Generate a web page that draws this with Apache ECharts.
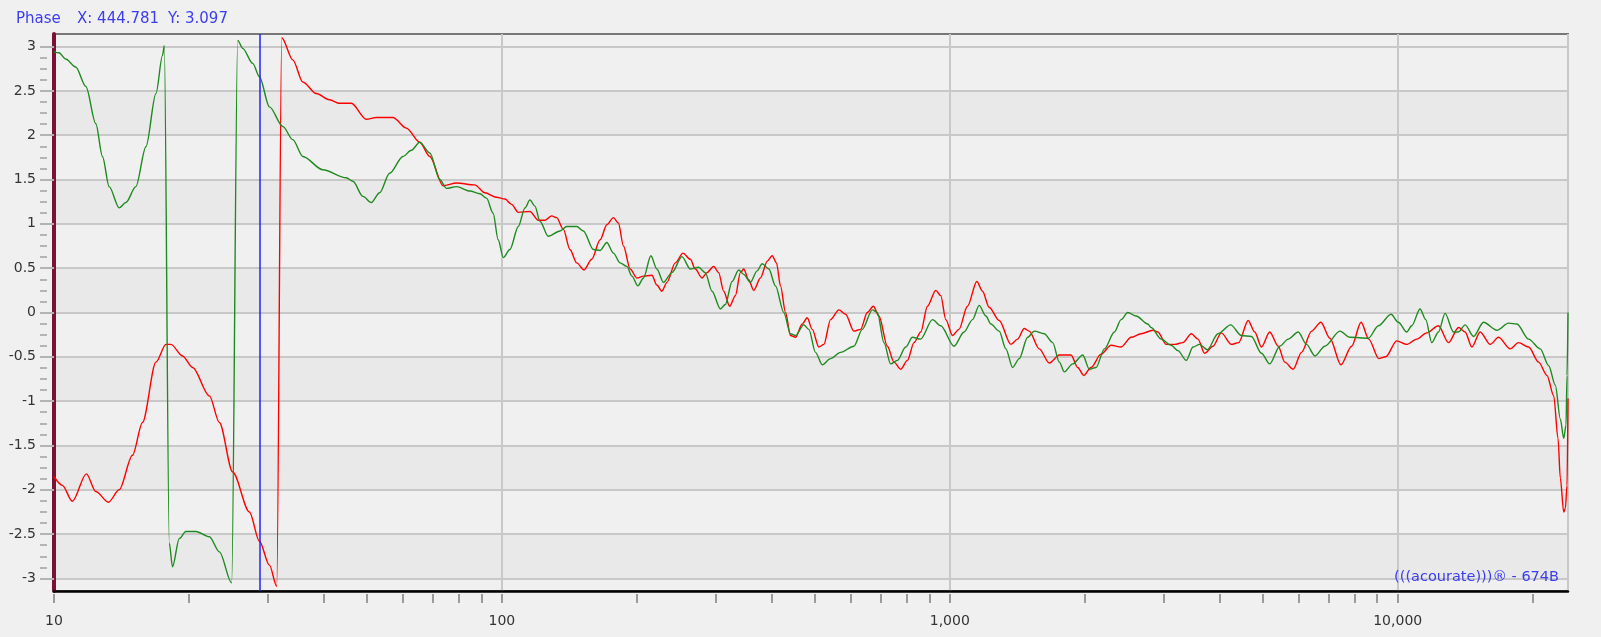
<!DOCTYPE html>
<html><head><meta charset="utf-8">
<script src="https://cdn.jsdelivr.net/npm/echarts@6/dist/echarts.min.js"></script>
<style>html,body{margin:0;padding:0;background:#f0f0f0;overflow:hidden}#c{width:1601px;height:637px}</style>
</head><body><div id="c"></div>
<script>
const greenFreq = [10.0,10.26,10.62,11.18,11.78,12.40,12.83,13.28,13.98,14.47,15.23,16.04,16.89,17.47,17.63,18.09,18.39,19.04,19.70,20.75,22.23,23.40,24.93,25.71,26.38,27.78,28.75,30.27,32.42,34.13,35.94,39.83,44.93,46.49,48.95,51.09,53.33,56.15,60.13,62.81,65.55,69.02,72.67,75.22,79.19,84.82,89.3,92.4,95.6,98.1,100.7,104.2,108.8,112.6,115.5,118.5,121.6,126.9,134.8,139.6,146.9,152.0,160.1,165.7,171.5,177.4,183.6,190.1,195.1,201.2,207.1,215.1,221.8,229.5,239.7,252.4,263.4,274.9,284.5,294.5,307.4,315.4,326.5,337.8,346.6,358.8,371.4,381.1,394.5,408.1,425.9,440.9,452.4,472.1,484.4,501.4,519.1,541.7,570.3,610.8,637.8,671.5,689.1,712.9,737.9,763.8,797.2,825.2,861.2,914.7,954.6,1022,1076,1124,1163,1204,1235,1289,1334,1381,1429,1492,1544,1625,1697,1756,1802,1881,1981,2049,2121,2214,2331,2412,2497,2606,2768,2816,2964,3121,3231,3373,3491,3612,3758,3970,4237,4478,4714,4963,5180,5454,5696,5997,6259,6532,6877,7430,7821,8601,9056,9663,10036,10475,10748,11217,11551,11914,12332,12758,13322,13669,14142,14767,15548,16650,17684,18456,19602,20808,21733,22484,23071,23478,23758,23881,24000];
const greenPhase = [2.94,2.93,2.86,2.77,2.55,2.13,1.76,1.42,1.18,1.24,1.42,1.87,2.47,2.90,3.01,-2.6,-2.87,-2.55,-2.47,-2.47,-2.53,-2.70,-3.05,3.07,2.98,2.81,2.66,2.32,2.10,1.95,1.76,1.61,1.52,1.48,1.31,1.24,1.35,1.57,1.76,1.83,1.92,1.80,1.50,1.40,1.42,1.37,1.34,1.29,1.12,0.82,0.62,0.71,0.97,1.18,1.27,1.20,1.03,0.86,0.92,0.97,0.97,0.92,0.71,0.70,0.79,0.67,0.56,0.52,0.41,0.30,0.39,0.64,0.49,0.34,0.45,0.63,0.49,0.51,0.45,0.24,0.04,0.09,0.35,0.48,0.43,0.34,0.47,0.55,0.49,0.30,0.0,-0.24,-0.26,-0.14,-0.19,-0.45,-0.59,-0.52,-0.45,-0.38,-0.19,0.03,0.0,-0.34,-0.58,-0.54,-0.39,-0.28,-0.30,-0.08,-0.15,-0.38,-0.22,-0.08,0.08,-0.04,-0.13,-0.21,-0.41,-0.62,-0.52,-0.28,-0.21,-0.24,-0.34,-0.56,-0.67,-0.58,-0.48,-0.64,-0.62,-0.41,-0.22,-0.08,0.0,-0.04,-0.13,-0.17,-0.30,-0.37,-0.43,-0.54,-0.39,-0.36,-0.42,-0.24,-0.14,-0.26,-0.27,-0.46,-0.58,-0.38,-0.30,-0.22,-0.36,-0.49,-0.38,-0.21,-0.28,-0.29,-0.15,-0.02,-0.11,-0.22,-0.15,0.04,-0.08,-0.34,-0.22,-0.01,-0.22,-0.22,-0.14,-0.27,-0.11,-0.20,-0.12,-0.13,-0.30,-0.41,-0.60,-0.82,-1.20,-1.42,-1.27,-0.71,0.0];
const redFreq = [10.0,10.44,10.99,11.81,12.40,13.23,13.98,14.97,15.76,16.89,17.78,18.24,19.36,20.39,22.23,23.40,25.06,27.31,28.75,30.27,31.43,32.25,34.13,35.94,38.50,41.23,43.41,46.10,49.82,52.43,57.11,61.19,65.55,69.02,73.92,79.19,87.0,91.6,97.3,101.6,105.1,108.8,115.5,120.6,124.8,129.2,132.5,137.1,141.9,146.9,152.5,158.7,165.7,171.5,177.4,182.0,186.8,193.4,200.1,207.1,216.2,221.8,227.6,233.6,243.8,253.7,263.4,270.3,279.7,287.0,297.0,304.7,312.7,322.5,332.1,340.8,346.6,355.6,364.9,377.7,391.3,401.2,410.2,418.8,429.7,440.9,452.4,468.3,480.5,493.0,510.1,523.4,541.7,565.4,585.2,610.8,632.2,654.4,675.0,694.8,725.5,750.5,776.9,804.2,832.0,861.2,891.4,930.3,954.6,979.6,1014,1048,1095,1149,1183,1224,1289,1369,1417,1466,1504,1584,1668,1756,1865,1930,1991,2067,2176,2291,2412,2540,2674,2840,2914,3042,3175,3316,3461,3582,3706,3870,4038,4252,4416,4635,4795,4963,5180,5410,5597,5844,6099,6422,6737,7056,7468,7890,8284,8617,9072,9402,9949,10475,11028,11611,12332,12984,13669,14142,14639,15278,16085,16796,17830,18618,19602,20638,21544,22300,22799,23071,23478,23672,23881,24000];
const redPhase = [-1.85,-1.95,-2.13,-1.82,-2.02,-2.14,-2.00,-1.61,-1.24,-0.56,-0.36,-0.36,-0.49,-0.62,-0.94,-1.24,-1.80,-2.25,-2.58,-2.85,-3.09,3.10,2.85,2.60,2.47,2.40,2.36,2.36,2.18,2.20,2.20,2.08,1.92,1.76,1.43,1.46,1.44,1.35,1.30,1.28,1.22,1.13,1.14,1.04,1.04,1.09,1.07,0.94,0.71,0.56,0.48,0.60,0.82,0.99,1.07,1.01,0.75,0.49,0.39,0.41,0.42,0.31,0.24,0.34,0.56,0.67,0.60,0.49,0.39,0.45,0.52,0.45,0.24,0.07,0.19,0.45,0.49,0.37,0.25,0.39,0.58,0.64,0.56,0.30,0.0,-0.26,-0.28,-0.13,-0.06,-0.19,-0.39,-0.36,-0.08,0.03,-0.02,-0.21,-0.19,0.0,0.07,-0.04,-0.38,-0.56,-0.64,-0.54,-0.34,-0.22,0.07,0.25,0.19,-0.08,-0.26,-0.19,0.07,0.35,0.24,0.06,-0.09,-0.36,-0.30,-0.18,-0.21,-0.41,-0.57,-0.48,-0.48,-0.62,-0.71,-0.62,-0.47,-0.37,-0.39,-0.28,-0.24,-0.20,-0.22,-0.36,-0.36,-0.34,-0.24,-0.30,-0.46,-0.38,-0.23,-0.36,-0.34,-0.09,-0.22,-0.39,-0.22,-0.38,-0.56,-0.64,-0.45,-0.21,-0.11,-0.29,-0.59,-0.38,-0.11,-0.30,-0.52,-0.50,-0.32,-0.36,-0.30,-0.23,-0.15,-0.34,-0.17,-0.22,-0.39,-0.22,-0.36,-0.28,-0.41,-0.34,-0.39,-0.56,-0.71,-0.94,-1.42,-1.87,-2.25,-2.21,-1.95,-0.97];
const cursorFreq = 28.75;
const xMin = 10, xMax = 24000;
const xLabelValues = [10, 100, 1000, 10000];
const xTickValues = [10,20,30,40,50,60,70,80,90,100,200,300,400,500,600,700,800,900,1000,2000,3000,4000,5000,6000,7000,8000,9000,10000,20000];
const yMajorValues = [-3,-2.5,-2,-1.5,-1,-0.5,0,0.5,1,1.5,2,2.5,3];
const yMinorValues = [-2.875,-2.75,-2.625,-2.375,-2.25,-2.125,-1.875,-1.75,-1.625,-1.375,-1.25,-1.125,-0.875,-0.75,-0.625,-0.375,-0.25,-0.125,0.125,0.25,0.375,0.625,0.75,0.875,1.125,1.25,1.375,1.625,1.75,1.875,2.125,2.25,2.375,2.625,2.75,2.875];
const titleParts = ['Phase', 'X: 444.781', 'Y: 3.097'];
const watermarkText = '(((acourate)))\u00AE - 674B';

const FONT = '"DejaVu Sans", sans-serif';
const chart = echarts.init(document.getElementById('c'), null, {renderer: 'canvas'});
const zip = (xs, ys) => xs.map((x, i) => [x, ys[i]]);
const titleStyle = {fontFamily: FONT, fontSize: 15, fontWeight: 'normal', color: '#3c3cf0'};

chart.setOption({
  animation: false,
  backgroundColor: '#f0f0f0',
  title: [
    {text: titleParts[0], left: 11, top: 7, padding: 5, textStyle: titleStyle},
    {text: titleParts[1], left: 72, top: 7, padding: 5, textStyle: titleStyle},
    {text: titleParts[2], left: 163, top: 7, padding: 5, textStyle: titleStyle}
  ],
  graphic: [{
    type: 'text', right: 42, top: 570, z: 100,
    style: {text: watermarkText, fill: '#3c3cf0', font: '14.5px ' + FONT}
  }],
  grid: {left: 54, right: 33, top: 34, bottom: 46, show: true, borderColor: '#777777', borderWidth: 2, backgroundColor: '#f0f0f0'},
  xAxis: [{
    type: 'log', logBase: 10, min: xMin, max: xMax, position: 'bottom',
    axisLine: {show: true, onZero: false, lineStyle: {color: '#000000', width: 2.5}},
    axisTick: {show: false},
    minorTick: {show: false},
    axisLabel: {margin: 23, color: '#333333', fontFamily: FONT, fontSize: 14,
      formatter: v => { const r = Math.round(v); return xLabelValues.includes(r) ? r.toLocaleString('en-US') : ''; }},
    splitLine: {show: true, lineStyle: {color: '#c8c8c8', width: 2}}
  }, {
    type: 'log', logBase: 10, min: xMin, max: xMax, position: 'bottom', offset: 3,
    axisLine: {show: false, onZero: false},
    axisTick: {show: true, customValues: xTickValues, length: 9, lineStyle: {color: '#9a9a9a', width: 2}},
    axisLabel: {show: false},
    splitLine: {show: false}
  }],
  yAxis: [{
    type: 'value', min: -Math.PI, max: Math.PI, position: 'left',
    axisLine: {show: true, onZero: false, lineStyle: {color: '#7a1238', width: 4}},
    axisTick: {show: true, customValues: yMajorValues, length: 14, lineStyle: {color: '#b4b4b4', width: 2}},
    axisLabel: {customValues: yMajorValues, margin: 18, color: '#333333', fontFamily: FONT, fontSize: 14,
      formatter: v => String(Math.round(v * 10) / 10)},
    splitLine: {show: true, lineStyle: {color: '#c8c8c8', width: 2}},
    splitArea: {show: true, areaStyle: {color: ['#e9e9e9', '#f0f0f0']}}
  }, {
    type: 'value', min: -Math.PI, max: Math.PI, position: 'left', offset: 7,
    axisLine: {show: false, onZero: false},
    axisTick: {show: true, customValues: yMinorValues, length: 7, lineStyle: {color: '#b4b4b4', width: 2}},
    axisLabel: {show: false},
    splitLine: {show: false}
  }],
  series: [{
    name: 'red', type: 'line', xAxisIndex: 0, yAxisIndex: 0,
    data: zip(redFreq, redPhase), showSymbol: false, smooth: 0.3, smoothMonotone: 'x',
    lineStyle: {color: '#ff0000', width: 1.4}, z: 3
  }, {
    name: 'green', type: 'line', xAxisIndex: 0, yAxisIndex: 0,
    data: zip(greenFreq, greenPhase), showSymbol: false, smooth: 0.3, smoothMonotone: 'x',
    lineStyle: {color: '#1f8a1f', width: 1.4}, z: 4,
    markLine: {silent: true, symbol: ['none', 'none'], label: {show: false},
      lineStyle: {color: '#2222ff', width: 1.5, type: 'solid'},
      data: [{xAxis: cursorFreq}]}
  }]
});
</script>
</body></html>
